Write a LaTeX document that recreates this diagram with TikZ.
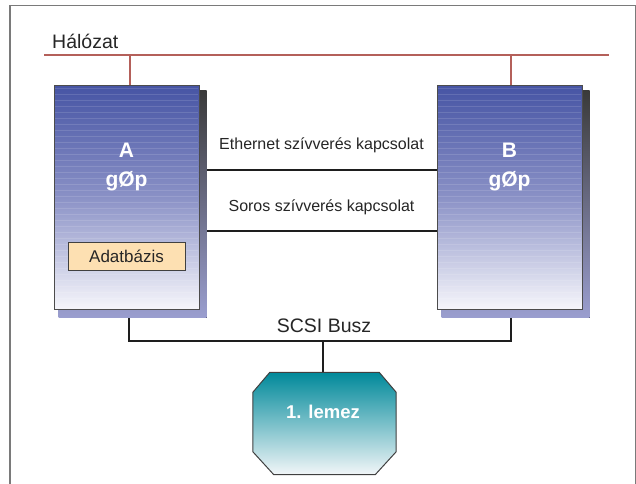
\documentclass[tikz,border=0pt]{standalone}
\usepackage{fontspec}
\setmainfont{Liberation Sans}
\usetikzlibrary{calc}
\definecolor{netred}{HTML}{B4605A}
\definecolor{framegray}{HTML}{7A7A7A}
\definecolor{wire}{HTML}{1E1E1E}
\definecolor{srvtop}{HTML}{4654A4}
\definecolor{srvmid}{HTML}{8A91C6}
\definecolor{srvbot}{HTML}{F6F6FB}
\definecolor{shadetop}{HTML}{3A3A3A}
\definecolor{shadebot}{HTML}{9A9ECF}
\definecolor{dbfill}{HTML}{FDE0B2}
\definecolor{disktop}{HTML}{00899A}
\definecolor{diskmid}{HTML}{5EB1BC}
\definecolor{diskbot}{HTML}{F2F6F8}
\pgfdeclarelayer{bg}
\pgfsetlayers{bg,main}
\tikzset{
  srv/.style={rectangle, draw=black!70, line width=1pt, minimum width=145, minimum height=224,
    top color=srvtop, bottom color=srvbot, middle color=srvmid, inner sep=0pt},
  srvshadow/.style={top color=shadetop, bottom color=shadebot},
  srvlabel/.style={text=white, font=\bfseries\fontsize{21}{24}\selectfont, anchor=base, inner sep=0pt},
  dbbox/.style={rectangle, draw=black!75, line width=1pt, fill=dbfill, minimum width=117, minimum height=28,
    font=\fontsize{17}{20}\selectfont, text=black!85, inner sep=0pt},
  txt/.style={font=\fontsize{16}{19}\selectfont, text=black!85, anchor=base, inner sep=0pt},
  net/.style={draw=netred, line width=2.2pt},
  netdrop/.style={draw=netred, line width=1.8pt},
  wireline/.style={draw=wire, line width=2pt},
  diskhold/.style={rectangle, draw=none, minimum width=143, minimum height=102, inner sep=0pt},
}
\begin{document}
\begin{tikzpicture}[x=1pt,y=-1pt]
\useasboundingbox (0,0) rectangle (636,483);
\begin{pgfonlayer}{bg}
  \fill[white] (0,0) rectangle (636,483);
\end{pgfonlayer}

% outer frame (open at the bottom)
\draw[framegray, line width=1.5pt] (10,490) -- (10,5.5) -- (635.5,5.5) -- (635.5,490);

% servers, database and disk
\node[srv] (A) at (126.5,197) {};
\node[srv] (B) at (509.5,197) {};
\node[diskhold] (disk) at (324.5,423.5) {};

% horizontal banding on the server boxes
\foreach \n in {A,B}{
  \foreach \k in {0,...,36}{
    \draw[white, opacity=0.13, line width=1.2pt]
      ($(\n.north west)+(1.5,4+6*\k)$) -- ($(\n.north east)+(-1.5,4+6*\k)$);
  }
}

\node[srvlabel] (Aname) at (126.5,157.5) {A};
\node[srvlabel] (Aword) at (126.5,186.5) {gØp};
\node[srvlabel] (Bname) at (509.5,157.5) {B};
\node[srvlabel] (Bword) at (509.5,186.5) {gØp};
\node[dbbox] (db) at (126.5,256) {Adatbázis};

% network
\node[font=\fontsize{19.5}{22}\selectfont, text=black!85, anchor=base west, inner sep=0pt] (netlbl) at (52,48.5) {Hálózat};
\coordinate (netL) at (44,55);
\coordinate (netR) at (609,55);
\coordinate (netA) at (130,55);
\coordinate (netB) at (511,55);

% heartbeat links and SCSI bus labels
\node[txt] (eth) at (321.5,149) {Ethernet szívverés kapcsolat};
\node[txt] (ser) at (321.5,211) {Soros szívverés kapcsolat};
\node[txt, font=\fontsize{19.5}{22}\selectfont] (scsi) at (324,332) {SCSI Busz};
\coordinate (busA) at (129,341);
\coordinate (busB) at (511,341);
\coordinate (busM) at (323,341);

\begin{pgfonlayer}{bg}
  \draw[net] (netL) -- (netR);
  \draw[netdrop] (netA) -- (netA |- A.north);
  \draw[netdrop] (netB) -- (netB |- B.north);
  \draw[wireline] (A.east |- 0,170) -- (B.west |- 0,170);
  \draw[wireline] (A.east |- 0,231) -- (B.west |- 0,231);
  \draw[wireline] (busA |- A.south) -- (busA) -- (busB) -- (busB |- B.south);
  \draw[wireline] (busM) -- (busM |- disk.north);
  % gradient drop shadows of the servers
  \foreach \n in {A,B}{
    \fill[srvshadow] ($(\n.north west)+(5,6)$) rectangle ($(\n.south east)+(7,8)$);
  }
\end{pgfonlayer}

% disk as an octagon
\path[draw=black!75, line width=1pt, top color=disktop, middle color=diskmid, bottom color=diskbot]
  ($(disk.north west)+(17,0)$) -- ($(disk.north east)+(-17,0)$) -- ($(disk.north east)+(0,20)$)
  -- ($(disk.south east)+(0,-23)$) -- ($(disk.south east)+(-21,0)$) -- ($(disk.south west)+(21,0)$)
  -- ($(disk.south west)+(0,-23)$) -- ($(disk.north west)+(0,20)$) -- cycle;
\node[text=white, font=\bfseries\fontsize{18.5}{21}\selectfont, anchor=base, inner sep=0pt] (disklbl) at (323,418) {1. lemez};
\end{tikzpicture}
\end{document}
